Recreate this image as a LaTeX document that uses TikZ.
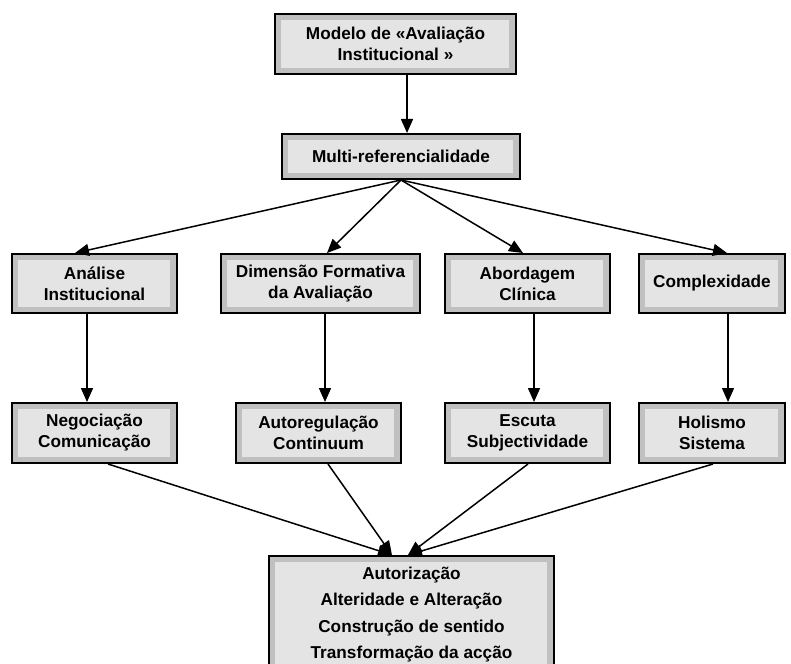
\documentclass[tikz,border=0pt]{standalone}
\usepackage{fontspec}
\setmainfont{Liberation Sans}
\usetikzlibrary{arrows.meta,calc}
\definecolor{bandgray}{RGB}{192,192,192}
\definecolor{innergray}{RGB}{228,228,228}
\begin{document}
\begin{tikzpicture}[x=1pt,y=-1pt,
  txt/.style={font=\fontsize{17.2}{21}\selectfont\bfseries,align=center},
  box/.style={txt,draw=black,line width=2pt,fill=bandgray,inner sep=0pt,
    path picture={\fill[innergray] ([shift={(6pt,-6pt)}]path picture bounding box.north west) rectangle ([shift={(-7pt,6pt)}]path picture bounding box.south east);}},
  arr/.style={line width=1.5pt,-{Triangle[length=14pt,width=12pt]}}]
\useasboundingbox (0,0) rectangle (791,663);
\node[box,minimum width=241pt,minimum height=60pt] (top) at (395.5,44) {Modelo de «Avaliação\\Institucional »};
\node[box,minimum width=238pt,minimum height=45pt] (multi) at (401,156.5) {Multi-referencialidade};
\node[box,minimum width=165pt,minimum height=59pt] (ana) at (94.5,283.5) {Análise\\Institucional};
\node[box,minimum width=199pt,minimum height=59pt] (dim) at (320.5,283.5) {Dimensão Formativa\\da Avaliação};
\node[box,minimum width=165pt,minimum height=59pt] (abo) at (527.5,283.5) {Abordagem\\Clínica};
\node[box,minimum width=146pt,minimum height=59pt] (com) at (712,283.5) {Complexidade};
\node[box,minimum width=165pt,minimum height=60pt] (neg) at (94.5,433) {Negociação\\Comunicação};
\node[box,minimum width=165pt,minimum height=60pt] (aut) at (318.5,433) {Autoregulação\\Continuum};
\node[box,minimum width=165pt,minimum height=60pt] (esc) at (527.5,433) {Escuta\\Subjectividade};
\node[box,minimum width=146pt,minimum height=60pt] (hol) at (712,433) {Holismo\\Sistema};
\node[box,minimum width=285pt,minimum height=122pt] (bot) at (411.5,617) {};
\node[txt,font=\fontsize{17.2}{26.3}\selectfont\bfseries] (bottext) at (411.5,614.5) {Autorização\\Alteridade e Alteração\\Construção de sentido\\Transformação da acção};
\draw[arr] ([xshift=11.5pt]top.south) -- ([xshift=6pt]multi.north);
\draw[arr] (multi.south) -- ([xshift=-19.5pt]ana.north);
\draw[arr] (multi.south) -- ([xshift=6.5pt]dim.north);
\draw[arr] (multi.south) -- ([xshift=-4.5pt]abo.north);
\draw[arr] (multi.south) -- ([xshift=15pt]com.north);
\draw[arr] ([xshift=-7.5pt]ana.south) -- ([xshift=-7.5pt]ana.south |- neg.north);
\draw[arr] ([xshift=4.5pt]dim.south) -- ([xshift=4.5pt]dim.south |- aut.north);
\draw[arr] ([xshift=6.5pt]abo.south) -- ([xshift=6.5pt]abo.south |- esc.north);
\draw[arr] ([xshift=16pt]com.south) -- ([xshift=16pt]com.south |- hol.north);
\draw[arr] ([xshift=13.5pt]neg.south) -- ([xshift=-19.5pt]bot.north);
\draw[arr] ([xshift=9.5pt]aut.south) -- ([xshift=-19.5pt]bot.north);
\draw[arr] ([xshift=0.5pt]esc.south) -- ([xshift=-3.5pt]bot.north);
\draw[arr] ([xshift=1pt]hol.south) -- ([xshift=-3.5pt]bot.north);
\end{tikzpicture}
\end{document}
